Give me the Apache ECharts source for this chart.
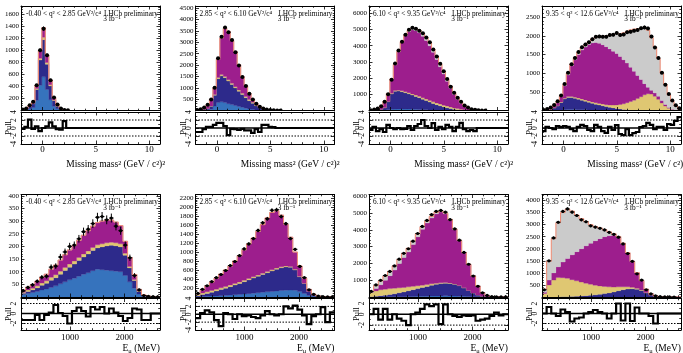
<!DOCTYPE html>
<html>
<head>
<meta charset="utf-8">
<script src="https://cdn.jsdelivr.net/npm/echarts@6/dist/echarts.min.js"></script>
<style>
html,body{margin:0;padding:0;background:#fff}
#main{width:683px;height:353px}
</style>
</head>
<body>
<div id="main"></div>
<script>
// ---------- binning of the two fit variables ----------
const massRange = [-2, 11];      // missing mass squared, GeV^2/c^4
const massBinCount = 40;
const energyRange = [100, 2650]; // muon energy, MeV
const energyBinCount = 30;

// ---------- q2 bin captions ----------
const q2Captions = [
  '-0.40 < q² < 2.85 GeV²/c⁴',
  '2.85 < q² < 6.10 GeV²/c⁴',
  '6.10 < q² < 9.35 GeV²/c⁴',
  '9.35 < q² < 12.6 GeV²/c⁴'
];

// ---------- missing mass², q² bin 1 ----------
const mm1Blue    = [5,12,30,50,170,420,560,350,180,70, 30,10,3,1,0,0,0,0,0,0, 0,0,0,0,0,0,0,0,0,0, 0,0,0,0,0,0,0,0,0,0];
const mm1Navy    = [5,12,35,60,180,420,620,420,230,95, 42,14,4,1,0,0,0,0,0,0, 0,0,0,0,0,0,0,0,0,0, 0,0,0,0,0,0,0,0,0,0];
const mm1Sand    = [2,3,6,8,15,30,40,30,20,10, 5,2,1,0,0,0,0,0,0,0, 0,0,0,0,0,0,0,0,0,0, 0,0,0,0,0,0,0,0,0,0];
const mm1Magenta = [3,6,15,25,55,130,160,120,75,40, 20,8,2,1,0,0,0,0,0,0, 0,0,0,0,0,0,0,0,0,0, 0,0,0,0,0,0,0,0,0,0];
const mm1Grey    = [0,0,0,0,0,0,0,0,0,0, 0,0,0,0,0,0,0,0,0,0, 0,0,0,0,0,0,0,0,0,0, 0,0,0,0,0,0,0,0,0,0];
const mm1Data    = [15,33,89,144,421,1003,1363,920,504,216, 100,33,10,3,0,0,0,0,0,0, 0,0,0,0,0,0,0,0,0,0, 0,0,0,0,0,0,0,0,0,0];
const mm1Pull    = [-0.2,0.3,2.1,-0.2,0.4,-0.8,0,0.4,1.4,0.4, -0.3,-0.4,1.7,0,0,0,0,0,0,0, 0,0,0,0,0,0,0,0,0,0, 0,0,0,0,0,0,0,0,0,0];

// ---------- missing mass², q² bin 2 ----------
const mm2Blue    = [3,8,15,30,60,200,350,380,350,300, 260,220,180,140,100,70,45,25,12,5, 2,1,0,0,0,0,0,0,0,0, 0,0,0,0,0,0,0,0,0,0];
const mm2Navy    = [4,10,27,55,130,470,1050,1145,1095,995, 885,775,665,565,465,360,270,185,108,55, 23,9,4,1,1,0,0,0,0,0, 0,0,0,0,0,0,0,0,0,0];
const mm2Sand    = [1,2,3,5,10,30,50,55,55,55, 55,55,55,55,55,50,45,40,30,20, 10,5,2,1,0,0,0,0,0,0, 0,0,0,0,0,0,0,0,0,0];
const mm2Magenta = [12,40,85,160,290,300,800,1620,2120,2130, 1880,1550,1110,730,470,270,130,55,20,10, 7,3,1,1,0,0,0,0,0,0, 0,0,0,0,0,0,0,0,0,0];
const mm2Grey    = [0,0,0,0,0,0,0,0,0,0, 0,0,0,0,0,0,0,0,0,0, 0,0,0,0,0,0,0,0,0,0, 0,0,0,0,0,0,0,0,0,0];
const mm2Data    = [20,60,130,250,480,1000,2300,3250,3650,3450, 3100,2560,1980,1470,1080,740,480,300,160,90, 40,18,7,3,1,0,0,0,0,0, 0,0,0,0,0,0,0,0,0,0];
const mm2Pull    = [-1,-1,-0.3,0.3,0.3,0.8,1.3,1.3,0.5,-1.8, -0.2,-0.3,-0.5,-0.2,-0.6,-0.6,-1.2,-0.3,-1,0.8, 0.8,0.3,0.2,0,0,0,0,0,0,0, 0,0,0,0,0,0,0,0,0,0];

// ---------- missing mass², q² bin 3 ----------
const mm3Blue    = [0,1,3,10,20,40,70,90,100,100, 95,90,80,70,60,50,40,30,25,18, 12,8,5,3,2,1,0,0,0,0, 0,0,0,0,0,0,0,0,0,0];
const mm3Navy    = [2,8,20,60,150,500,950,1100,1100,1060, 1000,940,870,800,730,650,570,490,410,340, 275,215,165,120,80,50,28,14,6,2, 1,0,0,0,0,0,0,0,0,0];
const mm3Sand    = [0,1,2,4,8,20,40,50,55,60, 65,70,75,80,85,90,95,100,105,108, 110,108,102,92,80,65,50,35,22,12, 5,2,1,0,0,0,0,0,0,0];
const mm3Magenta = [18,50,100,196,382,480,860,1570,2355,2980, 3460,3780,3955,3980,3925,3800,3615,3370,3050,2679, 2298,1919,1538,1165,843,579,377,231,124,58, 24,8,2,1,0,0,0,0,0,0];
const mm3Grey    = [0,0,0,0,0,10,30,40,40,50, 60,80,100,130,150,170,180,190,190,185, 175,160,140,120,95,75,55,40,28,18, 10,5,2,1,0,0,0,0,0,0];
const mm3Data    = [20,60,120,270,540,1000,1900,2900,3700,4240, 4670,4980,5100,5040,4920,4770,4500,4210,3760,3330, 2890,2420,1940,1470,1100,785,540,310,186,83, 40,15,5,2,0,0,0,0,0,0];
const mm3Pull    = [-0.5,0.3,-0.8,-0.3,-1.0,0.8,0,-0.3,0,-0.3, -0.2,0.5,-0.5,0.5,1.0,2.0,0.5,0,1.2,-0.5, 0.3,-0.3,0.8,0.3,-0.8,0.3,1.3,-0.3,-0.8,-0.5, -0.8,0,0,0,0,0,0,0,0,0];

// ---------- missing mass², q² bin 4 ----------
const mm4Blue    = [0,0,0,5,10,15,20,25,25,25, 22,20,18,15,12,10,8,6,4,2, 0,0,0,0,0,0,0,0,0,0, 0,0,0,0,0,0,0,0,0,0];
const mm4Navy    = [5,12,30,60,110,200,290,320,320,300, 280,255,230,205,180,160,140,120,100,85, 70,55,42,30,20,12,6,3,0,0, 0,0,0,0,0,0,0,0,0,0];
const mm4Sand    = [3,4,5,6,8,12,20,28,30,32, 34,35,36,37,38,40,42,45,50,60, 75,95,120,150,190,230,270,320,370,420, 450,440,380,300,200,120,60,25,8,2];
const mm4Magenta = [5,10,25,55,85,140,330,580,820,1003, 1164,1310,1416,1513,1580,1610,1610,1589,1556,1503, 1445,1380,1288,1180,1060,918,774,617,460,300, 170,100,90,80,70,40,20,10,4,2];
const mm4Grey    = [5,10,18,24,27,33,40,50,55,60, 60,60,60,70,110,140,180,230,280,360, 450,530,610,720,850,1000,1130,1250,1370,1490, 1530,1410,1230,1020,730,540,340,215,108,36];
const mm4Data    = [15,40,78,145,250,405,710,1010,1240,1410, 1565,1695,1770,1830,1910,1975,1985,1975,1975,2020, 2030,2075,2020,2035,2100,2110,2140,2160,2205,2225, 2200,1980,1690,1410,1010,690,440,265,140,58];
const mm4Pull    = [-0.8,0.3,0,-0.3,0.5,0.2,0.5,0.3,-0.3,-0.8, 0.3,0.8,0.5,-0.5,-0.8,0.8,0.3,-0.8,-1.2,0.3, -0.5,0.7,-1.5,-1.8,-0.3,-1.8,-1.3,-1,0.2,0.5, 1.3,0.8,-0.3,0.3,0.3,-0.5,1,0.8,1.8,2.7];

// ---------- muon energy, q² bin 1 ----------
const e1Blue    = [10,14,18,22,28,32,38,44,52,60, 68,74,82,90,96,104,110,108,106,104, 102,100,85,60,35,12,3,1,1,0];
const e1Navy    = [5,8,10,14,18,22,28,32,38,45, 50,56,62,68,74,80,84,90,96,100, 100,98,80,55,30,10,2,1,0,0];
const e1Sand    = [4,6,7,8,9,10,12,12,12,12, 12,12,12,12,12,12,12,12,12,12, 12,12,8,6,4,2,1,0,0,0];
const e1Magenta = [6,10,13,18,23,26,32,38,44,50, 56,62,68,74,80,84,88,90,90,88, 82,72,47,35,20,6,2,1,1,1];
const e1Grey    = [0,0,0,0,0,0,0,0,0,0, 0,0,0,0,0,0,0,0,0,0, 0,0,0,0,0,0,0,0,0,0];
const e1Data    = [25,38,48,62,78,82,118,122,158,178, 200,205,230,258,268,290,315,318,305,312, 280,262,205,155,85,28,6,3,2,1];
const e1Pull    = [-1.3,-1.3,-1.3,-0.3,-1.3,-0.3,0.2,1.7,0.1,-0.5, -2.0,0.5,1.2,0.5,-0.6,1.3,0.8,1.3,0,1, 0.2,-0.5,-1.5,-0.9,1,0.8,-1.3,-1.3,0,0];

// ---------- muon energy, q² bin 2 ----------
const e2Blue    = [8,12,15,20,25,30,36,42,50,58, 66,75,85,95,105,115,125,135,145,152, 155,150,120,80,35,14,5,2,1,0];
const e2Navy    = [22,43,65,85,110,135,159,188,215,242, 274,305,335,365,395,425,455,485,505,518, 505,450,330,220,85,31,10,3,1,1];
const e2Sand    = [30,35,38,40,40,40,40,38,36,35, 33,32,30,30,28,26,25,24,22,20, 18,15,10,6,3,1,0,0,0,0];
const e2Magenta = [15,70,132,185,245,305,365,422,499,585, 677,768,860,970,1082,1194,1275,1276,1148,930, 652,385,230,114,47,14,5,3,1,0];
const e2Grey    = [0,0,0,0,0,0,0,0,0,0, 0,0,0,0,0,0,0,0,0,0, 0,0,0,0,0,0,0,0,0,0];
const e2Data    = [80,170,250,340,430,500,590,700,790,920, 1070,1180,1300,1480,1650,1740,1930,1940,1790,1630, 1300,1060,680,430,160,60,20,8,3,1];
const e2Pull    = [-1,0.3,1,0.5,-1.5,-3,0.3,0,-1.2,0, -0.5,-0.3,-0.7,-1,-0.3,0.8,0,-0.3,0,2, 1.5,2.2,1.2,-0.3,-2.5,-0.5,0,1.8,-2,0.5];

// ---------- muon energy, q² bin 3 ----------
const e3Blue    = [2,4,6,8,10,14,18,22,28,34, 40,46,52,58,62,66,68,66,60,50, 38,26,15,8,3,1,0,0,0,0];
const e3Navy    = [15,40,70,100,140,180,230,280,340,400, 460,520,580,640,690,730,750,740,700,620, 500,360,220,110,40,12,4,1,0,0];
const e3Sand    = [250,320,350,360,350,330,300,270,235,200, 170,140,110,85,65,50,38,28,20,14, 9,5,3,1,0,0,0,0,0,0];
const e3Magenta = [3,136,304,532,770,1076,1442,1778,2077,2486, 2910,3324,3658,3917,4133,4214,4094,3746,3240,2666, 2088,1549,1007,529,216,77,26,9,4,2];
const e3Grey    = [50,180,220,250,250,250,240,230,220,200, 180,150,120,100,80,60,50,40,30,20, 15,10,5,2,1,0,0,0,0,0];
const e3Data    = [330,720,990,1280,1520,1850,2250,2600,2870,3320, 3780,4200,4560,4900,5100,5150,5050,4600,4050,3380, 2650,1950,1250,640,250,95,30,10,4,2];
const e3Pull    = [0,1,-1,1,-1,0,-0.8,-1.2,-2,0, 0.3,1,1.8,1.5,1.8,-1.8,1.8,0,-0.3,-0.5, -0.2,-0.3,-0.2,-1.2,-1,-0.8,-0.3,0.3,-0.2,0];

// ---------- muon energy, q² bin 4 ----------
const e4Blue    = [0,0,0,0,0,0,0,0,0,0, 0,0,0,0,0,0,0,0,0,0, 0,0,0,0,0,0,0,0,0,0];
const e4Navy    = [0,0,0,5,10,15,20,30,40,55, 70,90,110,140,170,210,260,300,330,340, 320,270,170,80,30,12,5,2,1,0];
const e4Sand    = [150,500,700,800,790,760,700,640,580,520, 460,400,350,300,250,200,160,120,90,60, 40,25,12,5,2,1,0,0,0,0];
const e4Magenta = [50,200,300,445,650,825,1030,1210,1380,1545, 1700,1840,1960,2060,2120,2150,2050,1780,1400,1060, 640,385,138,50,18,7,3,1,0,0];
const e4Grey    = [120,780,1420,1830,2050,2040,1810,1520,1250,1010, 770,590,440,290,160,60,40,30,20,15, 10,5,2,0,0,0,0,0,0,0];
const e4Data    = [300,1500,2450,3100,3550,3650,3520,3380,3200,3120, 2950,2900,2850,2780,2680,2600,2480,2200,1800,1480, 960,700,300,130,50,20,8,3,1,0];
const e4Pull    = [0,1.3,0,-0.5,0.8,0.3,-1.6,-1,-0.8,0, 0.3,0.7,0.3,0,-1,0,2,-1.4,2,-1.5, 1.2,0,0,-0.5,-2,0,0,0,0,0];

// ---------- panel definitions ----------
const panels = [
  { v: 'mass', q: 0, parts: [mm1Blue, mm1Navy, mm1Sand, mm1Magenta, mm1Grey], data: mm1Data, pull: mm1Pull, yMax: 1740, yStep: 200,  pullRange: [-4, 4] },
  { v: 'mass', q: 1, parts: [mm2Blue, mm2Navy, mm2Sand, mm2Magenta, mm2Grey], data: mm2Data, pull: mm2Pull, yMax: 4600, yStep: 500,  pullRange: [-4, 4] },
  { v: 'mass', q: 2, parts: [mm3Blue, mm3Navy, mm3Sand, mm3Magenta, mm3Grey], data: mm3Data, pull: mm3Pull, yMax: 6450, yStep: 1000, pullRange: [-4, 4] },
  { v: 'mass', q: 3, parts: [mm4Blue, mm4Navy, mm4Sand, mm4Magenta, mm4Grey], data: mm4Data, pull: mm4Pull, yMax: 2800, yStep: 500,  pullRange: [-4, 4] },
  { v: 'energy', q: 0, parts: [e1Blue, e1Navy, e1Sand, e1Magenta, e1Grey], data: e1Data, pull: e1Pull, yMax: 405,  yStep: 50,   pullRange: [-3.3, 3] },
  { v: 'energy', q: 1, parts: [e2Blue, e2Navy, e2Sand, e2Magenta, e2Grey], data: e2Data, pull: e2Pull, yMax: 2280, yStep: 200,  pullRange: [-4, 4] },
  { v: 'energy', q: 2, parts: [e3Blue, e3Navy, e3Sand, e3Magenta, e3Grey], data: e3Data, pull: e3Pull, yMax: 6100, yStep: 1000, pullRange: [-2.9, 2.9] },
  { v: 'energy', q: 3, parts: [e4Blue, e4Navy, e4Sand, e4Magenta, e4Grey], data: e4Data, pull: e4Pull, yMax: 4250, yStep: 500,  pullRange: [-3.3, 3] }
];

// ---------- styling & layout ----------
const SERIF = '"Liberation Serif", "DejaVu Serif", serif';
const partColors = ['#3673bd', '#2d2a8b', '#dfc772', '#9d1e8d', '#cbcbcb'];
const outlineColor = '#f08a72';
const colLeft = [21, 195.5, 369, 542];
const panelWidth = 139;
const rowGeom = [
  { mainTop: 6,     mainH: 104.5, pullTop: 112,   pullH: 32,   xLabelMargin: 1.5, titleY: 164, marker: 2.0 },
  { mainTop: 194.5, mainH: 102.5, pullTop: 298.5, pullH: 31.5, xLabelMargin: 3.5, titleY: 348, marker: 1.6 }
];
const captionSize = 7.3;
const plainNumber = v => String(v);

function binEdges(r, n) {
  const w = (r[1] - r[0]) / n;
  const e = [];
  for (let i = 0; i <= n; i++) e.push(r[0] + i * w);
  return e;
}
function ticksFor(lo, hi, step) {
  const out = [];
  const start = Math.ceil(lo / step - 1e-9) * step;
  for (let v = start; v <= hi + 1e-9; v += step) out.push(+v.toFixed(6));
  return out;
}
const massEdges = binEdges(massRange, massBinCount);
const energyEdges = binEdges(energyRange, energyBinCount);

const option = {
  animation: false,
  backgroundColor: '#fff',
  grid: [], xAxis: [], yAxis: [], series: [], graphic: []
};

function axisDef(gi, pos, r, ticks, len, line, labels, labelCfg) {
  return {
    type: 'value', gridIndex: gi, position: pos, min: r[0], max: r[1], z: 6,
    axisLine: { show: line, onZero: false, lineStyle: { color: '#000', width: 1 } },
    axisTick: { show: true, inside: true, length: len, customValues: ticks, lineStyle: { color: '#000', width: 0.8 } },
    axisLabel: labels
      ? Object.assign({ show: true, customValues: labels, color: '#000', fontFamily: SERIF, formatter: plainNumber }, labelCfg)
      : { show: false },
    splitLine: { show: false }, minorTick: { show: false }, minorSplitLine: { show: false }
  };
}

// four framed sides with major and minor ticks
function addFrame(gi, xr, xMaj, xMin, xLab, xCfg, yr, yMaj, yMin, yLab, yCfg, tick) {
  const xi = option.xAxis.length;
  option.xAxis.push(axisDef(gi, 'bottom', xr, xMaj, tick.xMaj, true, xLab, xCfg));
  option.xAxis.push(axisDef(gi, 'bottom', xr, xMin, tick.xMin, false, null));
  option.xAxis.push(axisDef(gi, 'top', xr, xMaj, tick.xMaj, true, null));
  option.xAxis.push(axisDef(gi, 'top', xr, xMin, tick.xMin, false, null));
  const yi = option.yAxis.length;
  option.yAxis.push(axisDef(gi, 'left', yr, yMaj, tick.yMaj, true, yLab, yCfg));
  option.yAxis.push(axisDef(gi, 'left', yr, yMin, tick.yMin, false, null));
  option.yAxis.push(axisDef(gi, 'right', yr, yMaj, tick.yMaj, true, null));
  option.yAxis.push(axisDef(gi, 'right', yr, yMin, tick.yMin, false, null));
  return { xi, yi };
}

function text(x, y, str, size, align, extra) {
  option.graphic.push(Object.assign({
    type: 'text', x, y, silent: true,
    style: { text: str, x: 0, y: 0, fill: '#000', fontSize: size, fontFamily: SERIF, align, verticalAlign: 'middle' }
  }, extra || {}));
}

panels.forEach((pn, p) => {
  const row = p < 4 ? 0 : 1;
  const g = rowGeom[row];
  const left = colLeft[p % 4];
  const isMass = pn.v === 'mass';
  const edges = isMass ? massEdges : energyEdges;
  const xr = isMass ? massRange : energyRange;
  const xMaj = ticksFor(xr[0], xr[1], isMass ? 5 : 1000);
  const xMin = ticksFor(xr[0], xr[1], isMass ? 1 : 200).filter(v => !xMaj.includes(v));

  // main histogram frame
  const gMain = option.grid.length;
  option.grid.push({ left, top: g.mainTop, width: panelWidth, height: g.mainH, show: false });
  const yMaj = ticksFor(0, pn.yMax, pn.yStep);
  const yMin = ticksFor(0, pn.yMax, pn.yStep / 5).filter(v => !yMaj.includes(v));
  const mainAx = addFrame(gMain, xr, xMaj, xMin, null, null,
    [0, pn.yMax], yMaj, yMin, yMaj.filter(v => v > 0), { fontSize: 7, margin: 2 },
    { xMaj: 3.5, xMin: 1.8, yMaj: 3.5, yMin: 1.8 });

  // pull frame
  const gPull = option.grid.length;
  option.grid.push({ left, top: g.pullTop, width: panelWidth, height: g.pullH, show: false });
  const pMaj = ticksFor(pn.pullRange[0], pn.pullRange[1], 2);
  const pMin = ticksFor(pn.pullRange[0], pn.pullRange[1], 1).filter(v => !pMaj.includes(v));
  const pullAx = addFrame(gPull, xr, xMaj, xMin, xMaj, { fontSize: 9, margin: g.xLabelMargin },
    pn.pullRange, pMaj, pMin, pMaj, { fontSize: 7.5, margin: 2.5, rotate: 90 },
    { xMaj: 3.5, xMin: 1.8, yMaj: 3.5, yMin: 1.8 });

  // stacked fit components
  const n = pn.data.length;
  let base = new Array(n).fill(0);
  const stacks = pn.parts.map(part => {
    const top = base.map((b, i) => b + part[i]);
    const layer = { base, top };
    base = top;
    return layer;
  });
  const total = base;

  stacks.forEach((layer, k) => {
    option.series.push({
      type: 'custom', xAxisIndex: mainAx.xi, yAxisIndex: mainAx.yi, clip: true, silent: true, z: 2,
      data: [[edges[0], 0]],
      renderItem(params, api) {
        const pts = [];
        for (let i = 0; i < n; i++) {
          pts.push(api.coord([edges[i], layer.top[i]]));
          pts.push(api.coord([edges[i + 1], layer.top[i]]));
        }
        for (let i = n - 1; i >= 0; i--) {
          pts.push(api.coord([edges[i + 1], layer.base[i]]));
          pts.push(api.coord([edges[i], layer.base[i]]));
        }
        return { type: 'polygon', shape: { points: pts }, style: { fill: partColors[k], stroke: partColors[k], lineWidth: 0.3 } };
      }
    });
  });

  // total fit outline
  option.series.push({
    type: 'custom', xAxisIndex: mainAx.xi, yAxisIndex: mainAx.yi, clip: true, silent: true, z: 3,
    data: [[edges[0], 0]],
    renderItem(params, api) {
      const pts = [api.coord([edges[0], 0])];
      for (let i = 0; i < n; i++) {
        pts.push(api.coord([edges[i], total[i]]));
        pts.push(api.coord([edges[i + 1], total[i]]));
      }
      pts.push(api.coord([edges[n], 0]));
      return { type: 'polyline', shape: { points: pts }, style: { stroke: outlineColor, lineWidth: 1, fill: 'none' } };
    }
  });

  // data points with Poisson error bars
  const pts = [];
  pn.data.forEach((v, i) => { if (v > 0) pts.push([(edges[i] + edges[i + 1]) / 2, v, edges[i], edges[i + 1]]); });
  option.series.push({
    type: 'custom', xAxisIndex: mainAx.xi, yAxisIndex: mainAx.yi, clip: true, silent: true, z: 4,
    data: pts,
    renderItem(params, api) {
      const x = api.value(0), y = api.value(1), lo = api.value(2), hi = api.value(3);
      const err = Math.sqrt(y);
      const c = api.coord([x, y]), l = api.coord([lo, y]), r = api.coord([hi, y]);
      const t = api.coord([x, y + err]), b = api.coord([x, y - err]);
      return {
        type: 'group', children: [
          { type: 'line', shape: { x1: l[0], y1: c[1], x2: r[0], y2: c[1] }, style: { stroke: '#000', lineWidth: 1 } },
          { type: 'line', shape: { x1: c[0], y1: t[1], x2: c[0], y2: b[1] }, style: { stroke: '#000', lineWidth: 1 } },
          { type: 'circle', shape: { cx: c[0], cy: c[1], r: g.marker }, style: { fill: '#000' } }
        ]
      };
    }
  });

  // pull distribution with reference levels
  option.series.push({
    type: 'custom', xAxisIndex: pullAx.xi, yAxisIndex: pullAx.yi, clip: true, silent: true, z: 3,
    data: [[edges[0], 0]],
    renderItem(params, api) {
      const lineAt = (v, style) => {
        const a = api.coord([xr[0], v]), b = api.coord([xr[1], v]);
        return { type: 'line', shape: { x1: a[0], y1: a[1], x2: b[0], y2: b[1] }, style };
      };
      const steps = [];
      for (let i = 0; i < n; i++) {
        steps.push(api.coord([edges[i], pn.pull[i]]));
        steps.push(api.coord([edges[i + 1], pn.pull[i]]));
      }
      return {
        type: 'group', children: [
          lineAt(2, { stroke: '#000', lineWidth: 1, lineDash: [1.5, 1.5] }),
          lineAt(-2, { stroke: '#000', lineWidth: 1, lineDash: [1.5, 1.5] }),
          lineAt(0, { stroke: '#000', lineWidth: 1.6 }),
          { type: 'polyline', shape: { points: steps }, style: { stroke: '#000', lineWidth: 2.2, fill: 'none', lineJoin: 'miter' } }
        ]
      };
    }
  });

  // captions
  const right = left + panelWidth;
  text(left + (pn.q === 0 ? 5 : 4), g.mainTop + 8, q2Captions[pn.q], captionSize, 'left');
  text(right - 2, g.mainTop + 8, 'LHCb preliminary', captionSize, 'right');
  text(right - 48, g.mainTop + 13.5, '3 fb⁻¹', captionSize, 'center');
  text(left - 12, g.pullTop + g.pullH / 2, 'Pull', 8.5, 'center', { rotation: Math.PI / 2 });
  if (isMass) {
    text(right + 5, g.titleY, 'Missing mass² (GeV / c²)²', 9.5, 'right');
  } else {
    option.graphic.push({
      type: 'text', x: right, y: g.titleY, silent: true,
      style: {
        text: '{a|E}{b|μ}{a| (MeV)}', x: 0, y: 0, align: 'right', verticalAlign: 'middle', fill: '#000',
        rich: {
          a: { fontSize: 9.5, fontFamily: SERIF, lineHeight: 13, verticalAlign: 'middle' },
          b: { fontSize: 6.5, fontFamily: SERIF, lineHeight: 13, verticalAlign: 'bottom' }
        }
      }
    });
  }
});

const chart = echarts.init(document.getElementById('main'), null, { renderer: 'canvas' });
chart.setOption(option);
</script>
</body>
</html>
